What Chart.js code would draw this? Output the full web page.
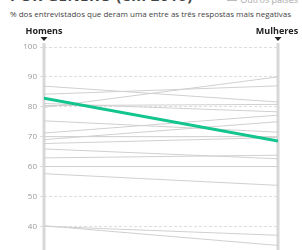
<!DOCTYPE html>
<html><head><meta charset="utf-8">
<script src="https://cdn.jsdelivr.net/npm/chart.js@4/dist/chart.umd.min.js"></script>
<style>
html,body{margin:0;padding:0;width:302px;height:250px;overflow:hidden;background:#fff;font-family:"Open Sans",sans-serif;}
#title{position:absolute;left:10px;top:-15px;font-size:15px;font-weight:700;color:#444;letter-spacing:0.5px;white-space:nowrap;}
#legend{position:absolute;right:4px;top:-7px;font-size:9px;color:#aaa;white-space:nowrap;}
#legend span{display:inline-block;width:10px;height:1px;background:#bbb;vertical-align:middle;margin-right:3px;}
#sub{position:absolute;left:10px;top:8px;font-size:8px;color:#444;white-space:nowrap;}
#wrap{position:absolute;left:0;top:24px;width:302px;height:240px;}
</style></head><body>
<div id="title">POR GÊNERO (em 2016)</div>
<div id="legend"><span></span>Outros países</div>
<div id="sub">% dos entrevistados que deram uma entre as três respostas mais negativas</div>
<div id="wrap"><canvas id="c"></canvas></div>
<script>
const categories = ["Homens", "Mulheres"];
const highlightName = "Brasil";
const highlightValues = [82.9, 68.5];
const otherMen   = [86.9, 84.2, 81.1, 80.4, 79.8, 75.3, 71.2, 70.0, 69.0, 67.7, 65.9, 62.9, 60.0, 57.6, 40.0, 40.2];
const otherWomen = [81.6, 87.0, 78.3, 80.8, 90.0, 71.5, 77.2, 70.0, 75.0, 69.7, 62.6, 63.8, 60.0, 53.7, 37.0, 33.6];
const yTicks = [40, 50, 60, 70, 80, 90, 100];

const datasets = [];
otherMen.forEach((v, i) => {
  datasets.push({
    data: [{x: 0, y: v}, {x: 1, y: otherWomen[i]}],
    borderColor: "#d0d0d0", borderWidth: 1, pointRadius: 0, order: 2
  });
});
datasets.push({
  label: highlightName,
  data: [{x: 0, y: highlightValues[0]}, {x: 1, y: highlightValues[1]}],
  borderColor: "#12c48e", borderWidth: 3, pointRadius: 0, order: 1
});

const axesPlugin = {
  id: "axesBars",
  beforeDatasetsDraw(chart) {
    const ctx = chart.ctx, xs = chart.scales.x, area = chart.chartArea;
    ctx.save();
    [0, 1].forEach((v) => {
      const px = xs.getPixelForValue(v);
      ctx.fillStyle = "#d8d8d8";
      ctx.fillRect(px - 1.5, area.top - 4, 3, area.bottom - area.top + 10);
    });
    ctx.restore();
  },
  afterDraw(chart) {
    const ctx = chart.ctx, xs = chart.scales.x, area = chart.chartArea;
    ctx.save();
    categories.forEach((name, i) => {
      const px = xs.getPixelForValue(i);
      ctx.fillStyle = "#222";
      ctx.beginPath();
      ctx.moveTo(px - 3.5, area.top - 10);
      ctx.lineTo(px + 3.5, area.top - 10);
      ctx.lineTo(px, area.top - 6);
      ctx.closePath();
      ctx.fill();
      ctx.font = "bold 9px 'Open Sans'";
      ctx.textBaseline = "alphabetic";
      ctx.textAlign = "center";
      ctx.fillText(name, i === 1 ? px - 1 : px, area.top - 13);
    });
    ctx.restore();
  }
};

new Chart(document.getElementById("c"), {
  type: "line",
  data: { datasets },
  options: {
    responsive: true, maintainAspectRatio: false, animation: false,
    layout: { padding: { top: 23, right: 24, bottom: 0, left: 0 } },
    plugins: { legend: { display: false }, tooltip: { enabled: false } },
    scales: {
      x: { type: "linear", min: 0, max: 1, display: false },
      y: {
        min: 30, max: 100,
        afterFit(s) { s.width = 44; },
        afterBuildTicks(s) { s.ticks = yTicks.map(v => ({ value: v })); },
        border: { display: false, dash: [3, 2] },
        grid: { color: "#dedede", lineWidth: 1, tickLength: 4, drawTicks: true },
        ticks: { color: "#999", font: { size: 8, family: "'Open Sans'" }, padding: 3 }
      }
    }
  },
  plugins: [axesPlugin]
});
</script>
</body></html>
